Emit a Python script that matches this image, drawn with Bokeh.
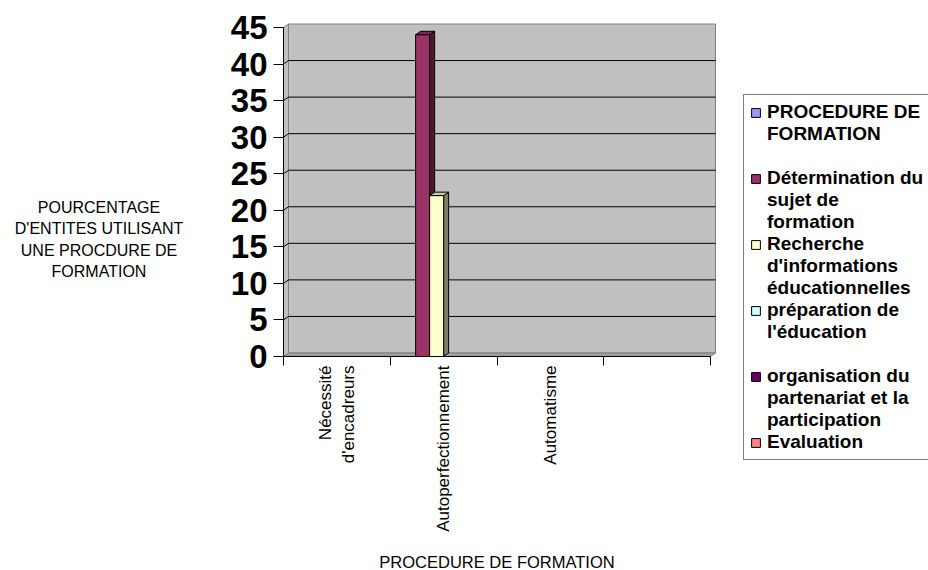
import math
from bokeh.plotting import figure
from bokeh.models import Range1d, FixedTicker, Legend, LegendItem, LinearAxis, Label, ColumnDataSource
from bokeh.core.properties import value
from bokeh.embed import file_html
from bokeh.resources import INLINE

# ---- data -------------------------------------------------------------
categories = ["Nécessité\nd'encadreurs", "Autoperfectionnement", "Automatisme", ""]

series_names = [
    "PROCEDURE DE FORMATION",
    "Détermination du sujet de formation",
    "Recherche d'informations éducationnelles",
    "préparation de l'éducation",
    "organisation du partenariat et la participation",
    "Evaluation",
]
# legend text, wrapped line by line
legend_lines = [
    ["PROCEDURE DE", "FORMATION", ""],
    ["Détermination du", "sujet de", "formation"],
    ["Recherche", "d'informations", "éducationnelles"],
    ["préparation de", "l'éducation", ""],
    ["organisation du", "partenariat et la", "participation"],
    ["Evaluation"],
]
series_colors = ["#9999FF", "#993366", "#FFFFCC", "#CCFFFF", "#660066", "#FF8080"]

procedure = [0, 0, 0, 0]
determination = [0, 44, 0, 0]
recherche = [0, 22, 0, 0]
preparation = [0, 0, 0, 0]
organisation = [0, 0, 0, 0]
evaluation = [0, 0, 0, 0]
series_values = [procedure, determination, recherche, preparation, organisation, evaluation]

y_ticks = [0, 5, 10, 15, 20, 25, 30, 35, 40, 45]
y_max = 45

x_title = "PROCEDURE DE FORMATION"
y_title = "POURCENTAGE\nD'ENTITES UTILISANT\nUNE PROCDURE DE\nFORMATION"

# ---- geometry ---------------------------------------------------------
# The plot frame spans the whole canvas; the axes are pinned at the origin
# of the 3-D box so the side texts and the legend can sit anywhere.
W, H = 928, 570
X0, Y0 = 283, 356                            # canvas position of the origin
n_cat = len(categories)
px_cat = 427 / n_cat                         # pixels per category slot
px_unit = 329 / y_max                        # pixels per percentage point
DX = 5 / px_cat                              # depth offset of the 3-D walls / bars
DY = 3.5 / px_unit
bar_w = 14 / px_cat
gap = (1 - len(series_values) * bar_w) / 2

FONT = "Liberation Sans"


def shade(hex_color, k):
    r, g, b = (int(hex_color[i:i + 2], 16) for i in (1, 3, 5))
    return "#%02X%02X%02X" % (int(r * k), int(g * k), int(b * k))


p = figure(
    width=W, height=H,
    x_range=Range1d(-X0 / px_cat, (W - X0) / px_cat),
    y_range=Range1d(-(H - Y0) / px_unit, Y0 / px_unit),
    x_axis_type=None, y_axis_type=None,
    output_backend="svg", toolbar_location=None,
    min_border=0,
)
p.xgrid.visible = False
p.ygrid.visible = False
p.outline_line_color = None
p.background_fill_color = "white"
p.border_fill_color = "white"

# ---- axes ------------------------------------------------------------
xa = LinearAxis(
    fixed_location=0,
    ticker=FixedTicker(ticks=[i + 0.5 for i in range(n_cat)], minor_ticks=list(range(n_cat + 1))),
    major_label_overrides={i + 0.5: c for i, c in enumerate(categories)},
    bounds=(0, n_cat),
    major_tick_out=0, major_tick_in=0,
    minor_tick_out=9, minor_tick_in=0, minor_tick_line_color="black",
    axis_line_color="black",
    major_label_standoff=0,
    major_label_orientation=math.pi / 2,
    major_label_text_font=FONT, major_label_text_font_size="17px",
    major_label_text_color="black",
)
p.add_layout(xa, "below")

ya = LinearAxis(
    fixed_location=0,
    ticker=FixedTicker(ticks=y_ticks, minor_ticks=[]),
    bounds=(0, y_max),
    major_tick_out=10, major_tick_in=0, major_tick_line_color="black",
    minor_tick_out=0, minor_tick_in=0,
    axis_line_color="black",
    major_label_standoff=6,
    major_label_text_font=FONT, major_label_text_font_style="bold",
    major_label_text_font_size="33px", major_label_text_color="black",
)
p.add_layout(ya, "left")

# ---- 3-D walls and floor ---------------------------------------------
p.quad(left=[DX], right=[n_cat + DX], bottom=[DY], top=[y_max + DY],
       fill_color="#C0C0C0", line_color="#808080", line_width=1)
p.patch(x=[0, DX, DX, 0], y=[0, DY, y_max + DY, y_max],
        fill_color="#C0C0C0", line_color="#808080", line_width=1)
p.patch(x=[0, n_cat, n_cat + DX, DX], y=[0, 0, DY, DY],
        fill_color="#A0A0A0", line_color="#808080", line_width=1)
grid_vals = [v for v in y_ticks if 0 < v < y_max]
p.multi_line(xs=[[0, DX, n_cat + DX] for _ in grid_vals],
             ys=[[v, v + DY, v + DY] for v in grid_vals],
             line_color="black", line_width=1)

# ---- bars: side faces, top faces, then front faces --------------------
side_xs, side_ys, side_c = [], [], []
top_xs, top_ys, top_c = [], [], []
fronts = []
for s, vals in enumerate(series_values):
    f = dict(left=[], right=[], top=[], bottom=[])
    for c, v in enumerate(vals):
        x0 = c + gap + s * bar_w
        x1 = x0 + bar_w
        f["left"].append(x0); f["right"].append(x1)
        f["bottom"].append(0); f["top"].append(v)
        if v <= 0:
            continue
        side_xs.append([x1, x1 + DX, x1 + DX, x1])
        side_ys.append([0, DY, v + DY, v])
        side_c.append(shade(series_colors[s], 0.5))
        top_xs.append([x0, x1, x1 + DX, x0 + DX])
        top_ys.append([v, v, v + DY, v + DY])
        top_c.append(shade(series_colors[s], 0.8))
    fronts.append(f)

p.patches(xs="xs", ys="ys", fill_color="c", line_color="black", line_width=1,
          source=ColumnDataSource(dict(xs=side_xs, ys=side_ys, c=side_c)))
p.patches(xs="xs", ys="ys", fill_color="c", line_color="black", line_width=1,
          source=ColumnDataSource(dict(xs=top_xs, ys=top_ys, c=top_c)))
front_renderers = []
for s, f in enumerate(fronts):
    r = p.quad(left="left", right="right", top="top", bottom="bottom",
               source=ColumnDataSource(f),
               fill_color=series_colors[s], line_color="black", line_width=1)
    front_renderers.append(r)

# ---- legend (one row per text line, swatch on the first line) ---------
blank = p.quad(left=[], right=[], top=[], bottom=[], fill_alpha=0, line_alpha=0)
items = []
for s, lines in enumerate(legend_lines):
    for k, line in enumerate(lines):
        items.append(LegendItem(label=value(line),
                                renderers=[front_renderers[s] if k == 0 else blank]))

legend = Legend(
    items=items,
    location=(743, H - 460),
    orientation="vertical",
    spacing=0,
    padding=6,
    margin=0,
    glyph_width=11,
    glyph_height=11,
    label_height=22,
    label_standoff=6,
    label_text_font=FONT,
    label_text_font_style="bold",
    label_text_font_size="19px",
    label_text_color="black",
    border_line_color="black",
    border_line_width=1,
    background_fill_color="white",
    background_fill_alpha=1.0,
)
p.add_layout(legend, "center")

# ---- axis titles ------------------------------------------------------
p.add_layout(Label(x=98.5, y=H - 239, x_units="screen", y_units="screen",
                   text=y_title, text_align="center", text_baseline="middle",
                   text_font=FONT, text_font_size="16px", text_line_height=1.27,
                   text_color="black"))
p.add_layout(Label(x=X0 + 427 / 2, y=H - 552, x_units="screen", y_units="screen",
                   text=x_title, text_align="center", text_baseline="top",
                   text_font=FONT, text_font_size="16.5px", text_color="black"))

open("out.html", "w").write(file_html(p, INLINE))
